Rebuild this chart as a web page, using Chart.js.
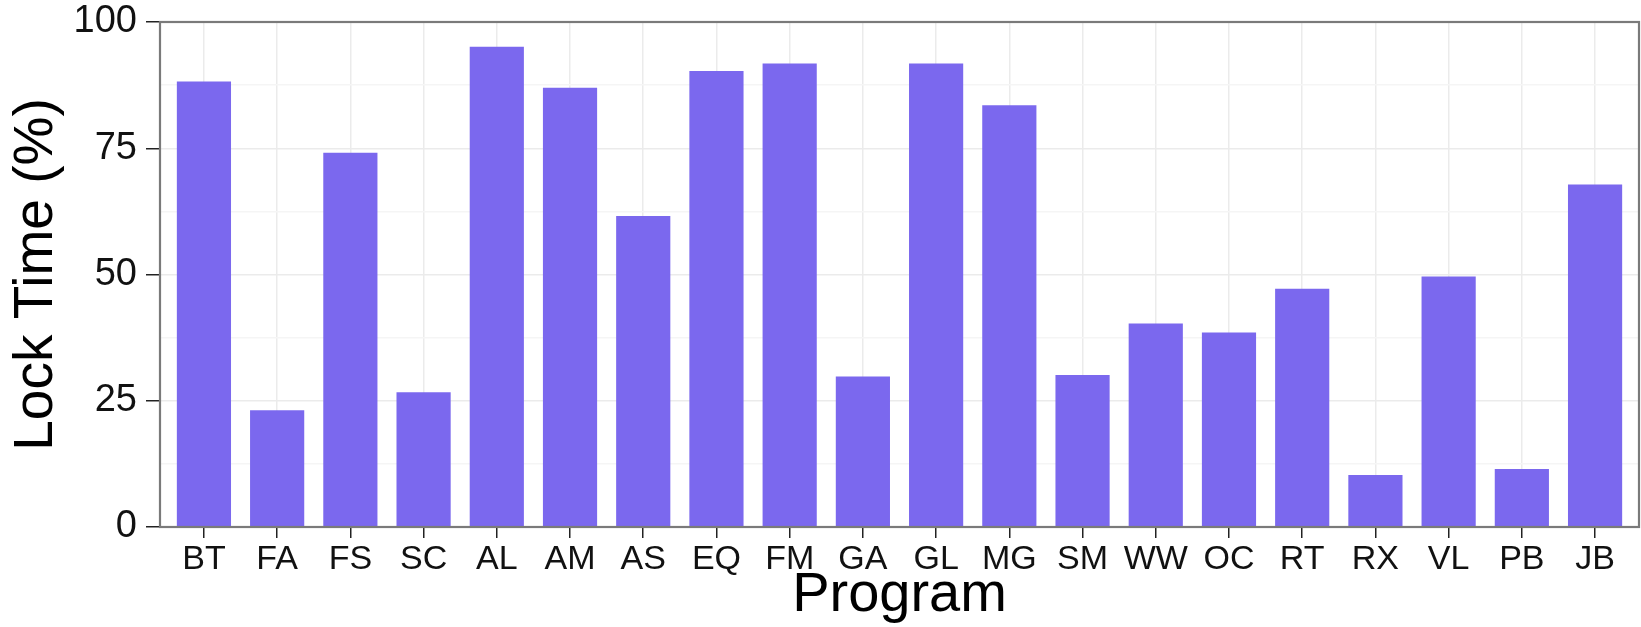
<!DOCTYPE html>
<html>
<head>
<meta charset="utf-8">
<script src="https://cdn.jsdelivr.net/npm/chart.js@4.4.1/dist/chart.umd.min.js"></script>
<style>
  html, body { margin: 0; padding: 0; background: #ffffff; }
  canvas { display: block; }
</style>
</head>
<body>
<canvas id="chart" width="1641" height="627"></canvas>
<script>
// Share of run time spent holding locks, per program
const programs = ['BT', 'FA', 'FS', 'SC', 'AL', 'AM', 'AS', 'EQ', 'FM', 'GA',
                  'GL', 'MG', 'SM', 'WW', 'OC', 'RT', 'RX', 'VL', 'PB', 'JB'];
const lockTime = [88.2, 23.1, 74.1, 26.7, 95.1, 87.0, 61.6, 90.3, 91.8, 29.8,
                  91.8, 83.5, 30.1, 40.3, 38.5, 47.2, 10.3, 49.6, 11.5, 67.8];
const yMajorTicks = [0, 25, 50, 75, 100];
const yMinorTicks = [12.5, 37.5, 62.5, 87.5];

const FONT = '"Liberation Sans", Arial, Helvetica, sans-serif';
const isMajorY = v => yMajorTicks.includes(v);

// Grey frame around the plotting panel, drawn over the bars
const panelFrame = {
  id: 'panelFrame',
  afterDatasetsDraw(chart) {
    const { ctx, chartArea: a } = chart;
    ctx.save();
    ctx.strokeStyle = '#7a7a7a';
    ctx.lineWidth = 2.2;
    ctx.strokeRect(a.left, a.top, a.right - a.left, a.bottom - a.top);
    ctx.restore();
  }
};

new Chart(document.getElementById('chart'), {
  type: 'bar',
  data: {
    datasets: [{
      label: 'Lock Time (%)',
      data: programs.map((p, i) => ({ x: i + 1, y: lockTime[i] })),
      backgroundColor: '#7B68EE',
      borderWidth: 0,
      categoryPercentage: 1,
      barPercentage: 0.74
    }]
  },
  options: {
    responsive: false,
    animation: false,
    devicePixelRatio: 1,
    layout: { padding: { left: 0, right: 2, top: 22, bottom: 0 } },
    plugins: {
      legend: { display: false },
      tooltip: { enabled: false }
    },
    scales: {
      x: {
        type: 'linear',
        min: 0.4,
        max: 20.6,
        offset: false,
        afterBuildTicks: scale => {
          scale.ticks = programs.map((p, i) => ({ value: i + 1 }));
        },
        afterFit: scale => {
          scale.height = 100;
          scale.paddingLeft = 0;
          scale.paddingRight = 0;
        },
        ticks: {
          autoSkip: false,
          maxRotation: 0,
          minRotation: 0,
          padding: 1,
          color: '#111111',
          font: { family: FONT, size: 34 },
          callback: v => programs[v - 1]
        },
        grid: {
          offset: false,
          color: '#ebebeb',
          lineWidth: 1.5,
          drawTicks: true,
          tickLength: 11,
          tickColor: '#222222',
          tickWidth: 1.5
        },
        border: { display: false },
        title: {
          display: true,
          text: 'Program',
          color: '#000000',
          font: { family: FONT, size: 56, lineHeight: 1.12 },
          padding: { top: 0, bottom: 0 }
        }
      },
      y: {
        min: 0,
        max: 100,
        afterBuildTicks: scale => {
          scale.ticks = [...yMajorTicks, ...yMinorTicks]
            .sort((a, b) => a - b)
            .map(v => ({ value: v, major: isMajorY(v) }));
        },
        afterFit: scale => {
          scale.width = 160;
          scale.paddingTop = 0;
          scale.paddingBottom = 0;
        },
        ticks: {
          padding: 9,
          color: '#111111',
          font: { family: FONT, size: 38, lineHeight: 1 },
          callback: v => (isMajorY(v) ? String(v) : '')
        },
        grid: {
          color: c => (isMajorY(c.tick.value) ? '#ebebeb' : '#f5f5f5'),
          lineWidth: 1.5,
          drawTicks: true,
          tickLength: 14,
          tickColor: c => (isMajorY(c.tick.value) ? '#222222' : 'rgba(0,0,0,0)'),
          tickWidth: 1.5
        },
        border: { display: false },
        title: {
          display: true,
          text: 'Lock Time (%)',
          color: '#000000',
          font: { family: FONT, size: 55 },
          padding: { top: 4, bottom: 0 }
        }
      }
    }
  },
  plugins: [panelFrame]
});
</script>
</body>
</html>
